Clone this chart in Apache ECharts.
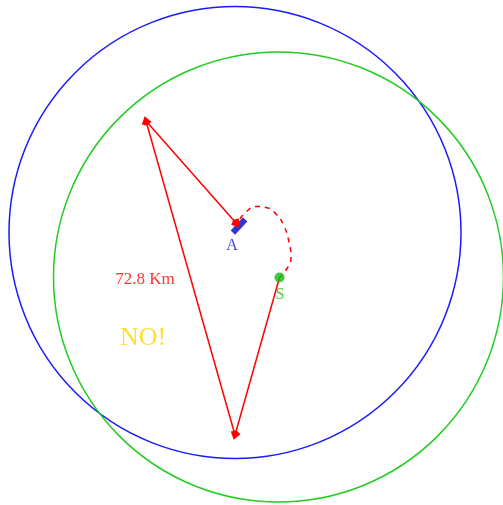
<!DOCTYPE html>
<html>
<head>
<meta charset="utf-8">
<script src="https://cdn.jsdelivr.net/npm/echarts@6/dist/echarts.min.js"></script>
<style>
  html, body { margin: 0; padding: 0; background: #fff; }
  #main { width: 503px; height: 505px; }
</style>
</head>
<body>
<div id="main"></div>
<script>
// range circles: [centerX, centerY, radius]
var blueCircle = [235, 232.5, 226]
var greenCircle = [278.5, 277, 225]

// positions
var pointA = [239, 226]
var pointS = [279.5, 277.5]
var turnTop = [146, 121]
var turnBottom = [235, 435]

// red legs (with arrow at end)
var legs = [
  [pointS, turnBottom],
  [turnBottom, turnTop],
  [turnTop, [236.5, 223.5]]
]

// dashed hook from A to S
var hookPath = [
  [240, 219], [246, 212], [256, 206.5], [266, 207.5], [276, 214],
  [284, 226], [289, 242], [291, 258], [286, 270], [279.5, 277.5]
]

// texts
var labels = [
  { name: '72.8 Km', value: [145, 280], color: '#ff0000', size: 17 },
  { name: 'NO!', value: [143, 338], color: '#ffd700', size: 26 },
  { name: 'A', value: [232, 246], color: '#1414cc', size: 16 },
  { name: 'S', value: [280, 295], color: '#1fb81f', size: 16 }
]

var myChart = echarts.init(document.getElementById('main'))

function circleSeries(c, color) {
  return {
    type: 'custom',
    coordinateSystem: 'cartesian2d',
    data: [c],
    silent: true,
    renderItem: function(params, api) {
      var p = api.coord([api.value(0), api.value(1)])
      var r = api.size([api.value(2), 0])[0]
      return {
        type: 'circle',
        shape: { cx: p[0], cy: p[1], r: r },
        style: { fill: 'none', stroke: color, lineWidth: 1.5 }
      }
    }
  }
}

var option = {
  backgroundColor: '#ffffff',
  animation: false,
  grid: { left: 0, right: 0, top: 0, bottom: 0 },
  xAxis: { type: 'value', min: 0, max: 503, show: false },
  yAxis: { type: 'value', min: 0, max: 505, inverse: true, show: false },
  series: [
    circleSeries(blueCircle, '#1a1aff'),
    circleSeries(greenCircle, '#22cc22'),
    {
      type: 'line',
      data: hookPath,
      smooth: true,
      showSymbol: false,
      lineStyle: { color: '#ff0000', width: 1.5, type: [5, 5] },
      z: 3
    },
    {
      type: 'scatter',
      data: [pointA],
      symbol: 'rect',
      symbolSize: [6, 18],
      symbolRotate: -43,
      itemStyle: { color: '#0000c8' },
      z: 4
    },
    {
      type: 'lines',
      coordinateSystem: 'cartesian2d',
      data: legs.map(function(l) { return { coords: l } }),
      symbol: ['none', 'path://M0,0 L3,8 L0,11 L-3,8 Z'],
      symbolSize: 10,
      lineStyle: { color: '#ff0000', width: 1.5, opacity: 1 },
      z: 5
    },
    {
      type: 'scatter',
      data: [pointS],
      symbolSize: 10,
      itemStyle: { color: '#11bb11' },
      z: 6
    },
    {
      type: 'scatter',
      symbolSize: 0,
      data: labels.map(function(t) {
        return {
          name: t.name,
          value: t.value,
          label: {
            show: true,
            position: 'inside',
            formatter: t.name,
            color: t.color,
            fontSize: t.size,
            fontFamily: 'Liberation Serif'
          }
        }
      }),
      z: 7
    }
  ]
}

myChart.setOption(option)
</script>
</body>
</html>
